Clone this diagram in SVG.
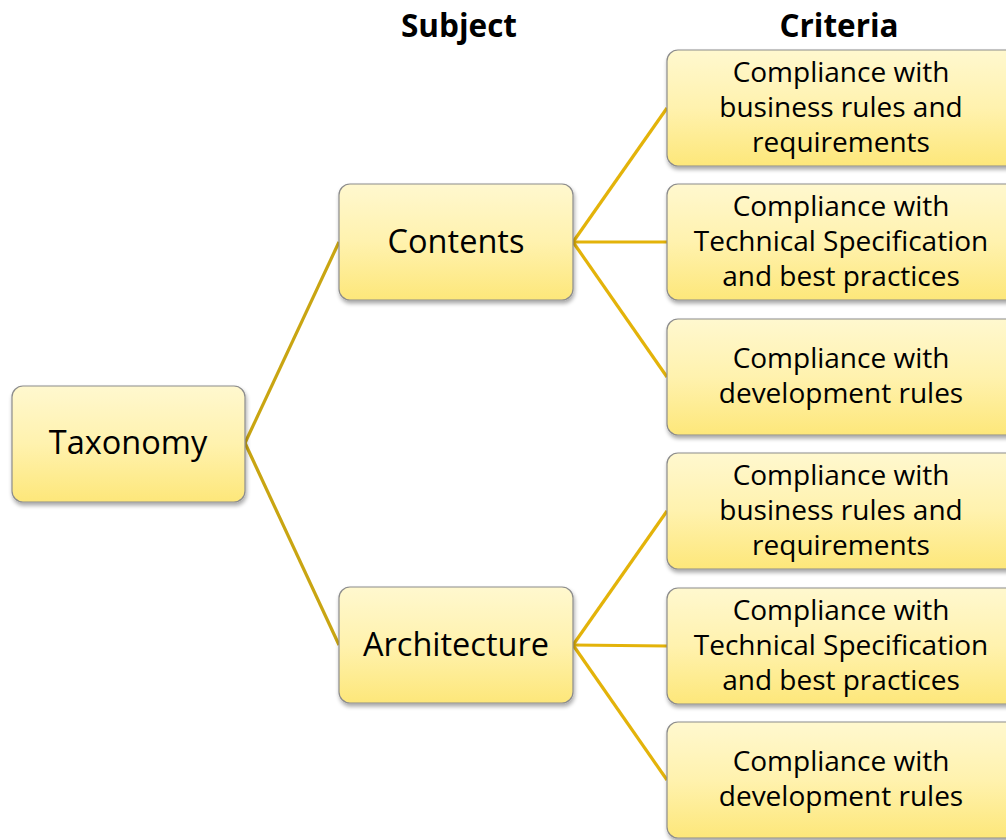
<svg xmlns="http://www.w3.org/2000/svg" width="1006" height="840" viewBox="0 0 1006 840">
<defs>
<linearGradient id="g" x1="0" y1="0" x2="0" y2="1">
<stop offset="0" stop-color="#fff8cf"/>
<stop offset="0.5" stop-color="#fff2ae"/>
<stop offset="1" stop-color="#fde77a"/>
</linearGradient>
<filter id="sh" x="-10%" y="-10%" width="120%" height="130%">
<feGaussianBlur in="SourceAlpha" stdDeviation="2"/>
<feOffset dx="1" dy="3" result="b"/>
<feComponentTransfer><feFuncA type="linear" slope="0.35"/></feComponentTransfer>
<feMerge><feMergeNode/><feMergeNode in="SourceGraphic"/></feMerge>
</filter>
</defs>
<style>
.box{fill:url(#g);stroke:#8c8c8c;stroke-width:1.2;filter:url(#sh)}
.t{font-family:"Open Sans","Liberation Sans",sans-serif;fill:#000;text-anchor:middle}
.big{font-size:32.5px}
.sm{font-size:28px}
.hd{font-family:"Open Sans","Liberation Sans",sans-serif;font-weight:bold;font-size:31.5px;text-anchor:middle}
.c1{stroke:#c9a512;stroke-width:3.2;fill:none}
.c2{stroke:#e3b30a;stroke-width:3.2;fill:none}
</style>
<text class="hd" x="459" y="37">Subject</text>
<text class="hd" x="839" y="37">Criteria</text>
<g id="connectors">
<line class="c1" x1="245" y1="443" x2="339" y2="242"/>
<line class="c1" x1="245" y1="443" x2="339" y2="645"/>
<line class="c2" x1="573" y1="242" x2="667" y2="108"/>
<line class="c2" x1="573" y1="242" x2="667" y2="242"/>
<line class="c2" x1="573" y1="242" x2="667" y2="377"/>
<line class="c2" x1="573" y1="645" x2="667" y2="511"/>
<line class="c2" x1="573" y1="645" x2="667" y2="646"/>
<line class="c2" x1="573" y1="645" x2="667" y2="780"/>
</g>
<g id="taxonomy"><rect class="box" x="12" y="386" width="233" height="116" rx="11"/><text class="t big" x="128" y="454">Taxonomy</text></g>
<g id="contents"><rect class="box" x="339" y="184" width="234" height="116" rx="11"/><text class="t big" x="456" y="253">Contents</text></g>
<g id="architecture"><rect class="box" x="339" y="587" width="234" height="116" rx="11"/><text class="t big" x="456" y="656">Architecture</text></g>
<g id="c1"><rect class="box" x="667" y="50" width="350" height="116" rx="11"/><text class="t sm" x="841" y="82">Compliance with</text><text class="t sm" x="841" y="117">business rules and</text><text class="t sm" x="841" y="152">requirements</text></g>
<g id="c2"><rect class="box" x="667" y="184" width="350" height="116" rx="11"/><text class="t sm" x="841" y="216">Compliance with</text><text class="t sm" x="841" y="251">Technical Specification</text><text class="t sm" x="841" y="286">and best practices</text></g>
<g id="c3"><rect class="box" x="667" y="319" width="350" height="116" rx="11"/><text class="t sm" x="841" y="368">Compliance with</text><text class="t sm" x="841" y="403">development rules</text></g>
<g id="a1"><rect class="box" x="667" y="453" width="350" height="116" rx="11"/><text class="t sm" x="841" y="485">Compliance with</text><text class="t sm" x="841" y="520">business rules and</text><text class="t sm" x="841" y="555">requirements</text></g>
<g id="a2"><rect class="box" x="667" y="588" width="350" height="116" rx="11"/><text class="t sm" x="841" y="620">Compliance with</text><text class="t sm" x="841" y="655">Technical Specification</text><text class="t sm" x="841" y="690">and best practices</text></g>
<g id="a3"><rect class="box" x="667" y="722" width="350" height="116" rx="11"/><text class="t sm" x="841" y="771">Compliance with</text><text class="t sm" x="841" y="806">development rules</text></g>
</svg>
